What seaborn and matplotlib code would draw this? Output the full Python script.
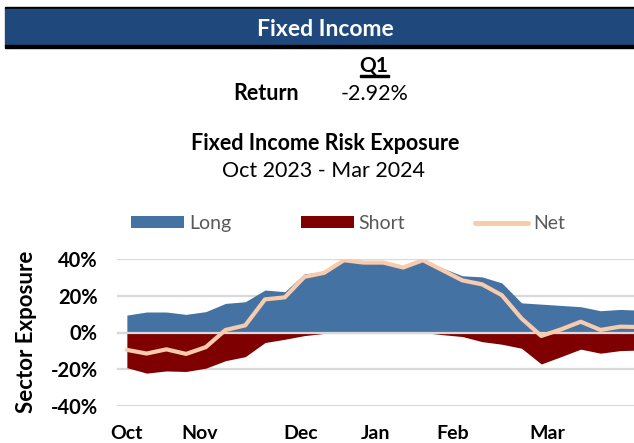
import numpy as np
import pandas as pd
import matplotlib
matplotlib.use('Agg')
import matplotlib.pyplot as plt
from matplotlib.patches import Patch, Rectangle
from matplotlib.lines import Line2D
import seaborn as sns

# weekly exposure readings, Oct 2023 - Mar 2024 (percent)
long_exp = [9.5, 11.2, 11.2, 9.9, 11.4, 15.9, 16.8, 23.2, 22.3, 32.1, 33.1, 39.8, 38.3, 38.3,
            35.6, 39.7, 35.2, 31.0, 30.4, 27.1, 16.2, 15.5, 14.8, 14.1, 11.9, 12.6, 12.2]
short_exp = [-19.2, -22.2, -21.0, -21.3, -19.5, -15.4, -13.2, -5.5, -3.7, -1.7, -0.5, -0.3, 0.0, 0.0,
             0.0, 0.0, -1.2, -2.2, -5.0, -6.4, -8.6, -17.2, -13.2, -9.1, -11.3, -9.9, -9.6]
net_exp = [-9.5, -11.5, -9.2, -11.7, -8.0, 1.4, 3.9, 18.1, 19.2, 30.4, 32.6, 39.5, 38.2, 38.2,
           35.5, 39.5, 34.0, 28.5, 26.3, 20.4, 7.7, -1.9, 1.7, 5.9, 1.4, 3.2, 3.0]
month_labels = ['Oct', 'Nov', 'Dec', 'Jan', 'Feb', 'Mar']
month_pos = [0, 3.7, 8.8, 12.6, 16.5, 21.3]
y_ticks = [-0.4, -0.2, 0.0, 0.2, 0.4]

df = pd.DataFrame({'week': np.arange(len(net_exp)),
                   'Long': np.array(long_exp) / 100,
                   'Short': np.array(short_exp) / 100,
                   'Net': np.array(net_exp) / 100})

BLUE = '#4472A2'
RED = '#7F0000'
PEACH = '#F8CBAD'
HEAD = '#1F497D'
GRID = '#D9D9D9'

sns.set_theme(style='white')
plt.rcParams['font.family'] = ['Lato', 'DejaVu Sans']
plt.rcParams['text.color'] = 'black'
plt.rcParams['xtick.color'] = 'black'
plt.rcParams['ytick.color'] = 'black'

fig = plt.figure(figsize=(6.34, 4.43), dpi=100)

# header bar
fig.patches.append(Rectangle((5 / 634, 1 - 9 / 443), 629 / 634, 2 / 443,
                             transform=fig.transFigure, color='black', zorder=0))
fig.patches.append(Rectangle((5 / 634, 1 - 45 / 443), 629 / 634, 36 / 443,
                             transform=fig.transFigure, color=HEAD, zorder=0))
fig.patches.append(Rectangle((5 / 634, 1 - 48 / 443), 629 / 634, 3 / 443,
                             transform=fig.transFigure, color='black', zorder=0))
fig.text(325 / 634, 1 - 29 / 443, 'Fixed Income', color='white', fontsize=16.5,
         fontweight='bold', ha='center', va='center')
fig.text(374 / 634, 1 - 66 / 443, 'Q1', fontsize=15, fontweight='bold',
         ha='center', va='center')
fig.patches.append(Rectangle((360 / 634, 1 - 77 / 443), 29 / 634, 1.8 / 443,
                             transform=fig.transFigure, color='black'))
fig.text(266 / 634, 1 - 94 / 443, 'Return', fontsize=15.5, fontweight='bold',
         ha='center', va='center')
fig.text(375 / 634, 1 - 94 / 443, '-2.92%', fontsize=15.5, ha='center', va='center')
fig.text(325 / 634, 1 - 143 / 443, 'Fixed Income Risk Exposure', fontsize=15.5,
         fontweight='bold', ha='center', va='center')
fig.text(324 / 634, 1 - 171 / 443, 'Oct 2023 - Mar 2024', fontsize=15.5,
         ha='center', va='center')

ax = fig.add_axes([117 / 634, 1 - 405.7 / 443, 517 / 634, 146.4 / 443])
ax.fill_between(df['week'], 0, df['Long'], color=BLUE, lw=0, zorder=2)
ax.fill_between(df['week'], 0, df['Short'], color=RED, lw=0, zorder=2)
ax.axhline(0, color=GRID, lw=1.6, zorder=3)
sns.lineplot(data=df, x='week', y='Net', color=PEACH, lw=3, ax=ax, zorder=4)

ax.set_xlim(-0.5, 25.7)
ax.set_ylim(-0.4, 0.4)
ax.set_yticks(y_ticks)
ax.set_yticklabels([f'{int(round(v * 100))}%' for v in y_ticks],
                   fontsize=14.5, fontweight='bold')
ax.set_xticks(month_pos)
ax.set_xticklabels(month_labels, fontsize=14, fontweight='bold')
ax.tick_params(axis='y', length=0, pad=14)
ax.tick_params(axis='x', length=0, pad=14)
ax.grid(axis='y', color=GRID, lw=1.6, zorder=0)
ax.set_axisbelow(True)
for s in ax.spines.values():
    s.set_visible(False)
ax.set_xlabel('')
ax.set_ylabel('')
fig.text(27 / 634, 1 - 332 / 443, 'Sector Exposure', fontsize=16, fontweight='bold',
         rotation=90, ha='center', va='center')

handles = [Patch(color=BLUE, lw=0), Patch(color=RED, lw=0),
           Line2D([], [], color=PEACH, lw=3.5)]
fig.legend(handles, ['Long', 'Short', 'Net'], loc='center', ncol=3,
           bbox_to_anchor=(348 / 634, 1 - 223.5 / 443), frameon=False,
           fontsize=14, labelcolor='#595959', handlelength=2.7, handleheight=0.57,
           handletextpad=0.26, columnspacing=3.6)

fig.savefig('out.png', dpi=100)
